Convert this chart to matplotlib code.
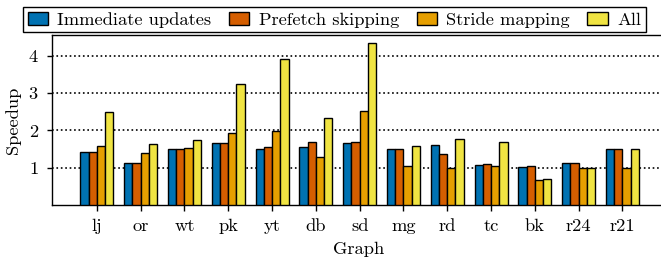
import matplotlib
matplotlib.use("Agg")
import matplotlib.pyplot as plt
import numpy as np

graphs = ["lj", "or", "wt", "pk", "yt", "db", "sd", "mg", "rd", "tc", "bk", "r24", "r21"]
immediate = [1.43, 1.13, 1.49, 1.66, 1.50, 1.56, 1.66, 1.50, 1.60, 1.06, 1.01, 1.12, 1.50]
prefetch  = [1.43, 1.13, 1.49, 1.67, 1.54, 1.68, 1.69, 1.50, 1.37, 1.09, 1.05, 1.12, 1.50]
stride    = [1.58, 1.38, 1.53, 1.92, 1.98, 1.28, 2.52, 1.05, 1.00, 1.05, 0.67, 1.00, 0.99]
all_opt   = [2.48, 1.62, 1.75, 3.25, 3.90, 2.32, 4.33, 1.58, 1.76, 1.68, 0.70, 1.00, 1.49]

series = [immediate, prefetch, stride, all_opt]
labels = ["Immediate updates", "Prefetch skipping", "Stride mapping", "All"]
colors = ["#0072B2", "#D55E00", "#E69F00", "#F0E442"]

plt.rcParams["font.family"] = ["cmr10", "DejaVu Serif"]
plt.rcParams["mathtext.fontset"] = "cm"
plt.rcParams["axes.formatter.use_mathtext"] = True
plt.rcParams["font.size"] = 13.3

fig = plt.figure(figsize=(6.61, 2.61), dpi=100)
ax = fig.add_axes([0.0782, 0.2146, 1.008 - 0.0782, 0.867 - 0.2146])

x = np.arange(len(graphs))
w = 0.188
handles = []
for i, (vals, lab, c) in enumerate(zip(series, labels, colors)):
    h = ax.bar(x + (i - 1.5) * w, vals, w, color=c, edgecolor="black",
               linewidth=1.0, label=lab, zorder=3)
    handles.append(h)

ax.set_xlim(-1.03, 13)
ax.set_ylim(0, 4.56)
ax.set_yticks([1, 2, 3, 4])
ax.set_xticks(x)
ax.set_xticklabels(graphs)
ax.yaxis.grid(True, linestyle=":", color="black", linewidth=1.2)
ax.set_axisbelow(True)
ax.tick_params(axis="x", direction="out", length=4.6, width=1, pad=5.5)
ax.tick_params(axis="y", direction="out", length=3.8, width=1, pad=5.5)
for s in ax.spines.values():
    s.set_linewidth(1.0)
ax.set_xlabel("Graph", labelpad=5)
ax.set_ylabel("Speedup", labelpad=5)

leg = fig.legend(handles=handles, labels=labels, ncol=4, loc="upper left",
                 bbox_to_anchor=(23.3 / 661, 1 - 7 / 261), borderaxespad=0,
                 frameon=True, fancybox=False, framealpha=1, edgecolor="black",
                 handlelength=1.1, handleheight=0.75, handletextpad=0.5,
                 columnspacing=0.95, borderpad=0.25, fontsize=13.3)
leg.get_frame().set_linewidth(1.0)

fig.savefig("out.png", dpi=100)
